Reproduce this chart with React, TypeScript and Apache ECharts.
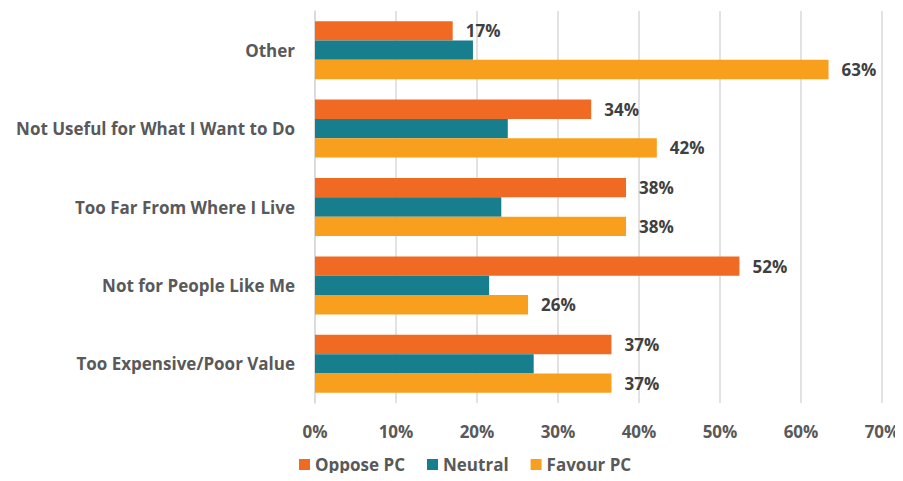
import React, { useEffect, useRef } from "react";
import * as echarts from "echarts";

const categories = [
  "Other",
  "Not Useful for What I Want to Do",
  "Too Far From Where I Live",
  "Not for People Like Me",
  "Too Expensive/Poor Value",
];
const opposePC = [17.0, 34.1, 38.4, 52.4, 36.6];
const neutral = [19.5, 23.8, 23.0, 21.5, 27.0];
const favourPC = [63.4, 42.2, 38.4, 26.3, 36.6];
const xTicks = [0, 10, 20, 30, 40, 50, 60, 70];

const FONT = "'Open Sans', Lato, sans-serif";
const FS = 17;

export default function App() {
  const ref = useRef<HTMLDivElement>(null);
  useEffect(() => {
    if (!ref.current) return;
    const chart = echarts.init(ref.current, undefined, { renderer: "svg" });
    const label = {
      show: true,
      position: "right",
      distance: 13,
      color: "#404040",
      fontSize: FS,
      fontWeight: "bold",
      fontFamily: FONT,
      formatter: (p: any) => Math.round(p.value) + "%",
    };
    chart.setOption({
      animation: false,
      textStyle: { fontFamily: FONT },
      grid: { left: 315, right: 21, top: 11, bottom: 78, containLabel: false },
      legend: {
        top: 456,
        left: 299,
        padding: 0,
        itemWidth: 11,
        itemHeight: 11,
        itemGap: 22,
        icon: "rect",
        data: ["Oppose PC", "Neutral", "Favour PC"],
        textStyle: { color: "#595959", fontSize: FS, fontWeight: "bold", fontFamily: FONT },
      },
      xAxis: {
        type: "value",
        min: 0,
        max: 70,
        interval: 10,
        axisLine: { show: false },
        axisTick: { show: false },
        splitLine: { lineStyle: { color: "#d9d9d9", width: 1.5 } },
        axisLabel: {
          margin: 20,
          color: "#595959",
          fontSize: FS,
          fontWeight: "bold",
          fontFamily: FONT,
          formatter: (v: number) => (xTicks.includes(v) ? v + "%" : ""),
        },
      },
      yAxis: {
        type: "category",
        inverse: true,
        data: categories,
        axisLine: { show: true, lineStyle: { color: "#d9d9d9", width: 1.5 } },
        axisTick: { show: false },
        axisLabel: {
          margin: 20,
          color: "#595959",
          fontSize: FS,
          fontWeight: "bold",
          fontFamily: FONT,
        },
      },
      series: [
        {
          name: "Oppose PC",
          type: "bar",
          data: opposePC,
          barGap: "0%",
          barCategoryGap: "26%",
          itemStyle: { color: "#F06A23" },
          label,
        },
        {
          name: "Neutral",
          type: "bar",
          data: neutral,
          barGap: "0%",
          barCategoryGap: "26%",
          itemStyle: { color: "#177E8E" },
        },
        {
          name: "Favour PC",
          type: "bar",
          data: favourPC,
          barGap: "0%",
          barCategoryGap: "26%",
          itemStyle: { color: "#F99F1E" },
          label,
        },
      ],
    });
    return () => chart.dispose();
  }, []);
  return <div ref={ref} style={{ width: 903, height: 481, margin: -8 }} />;
}
